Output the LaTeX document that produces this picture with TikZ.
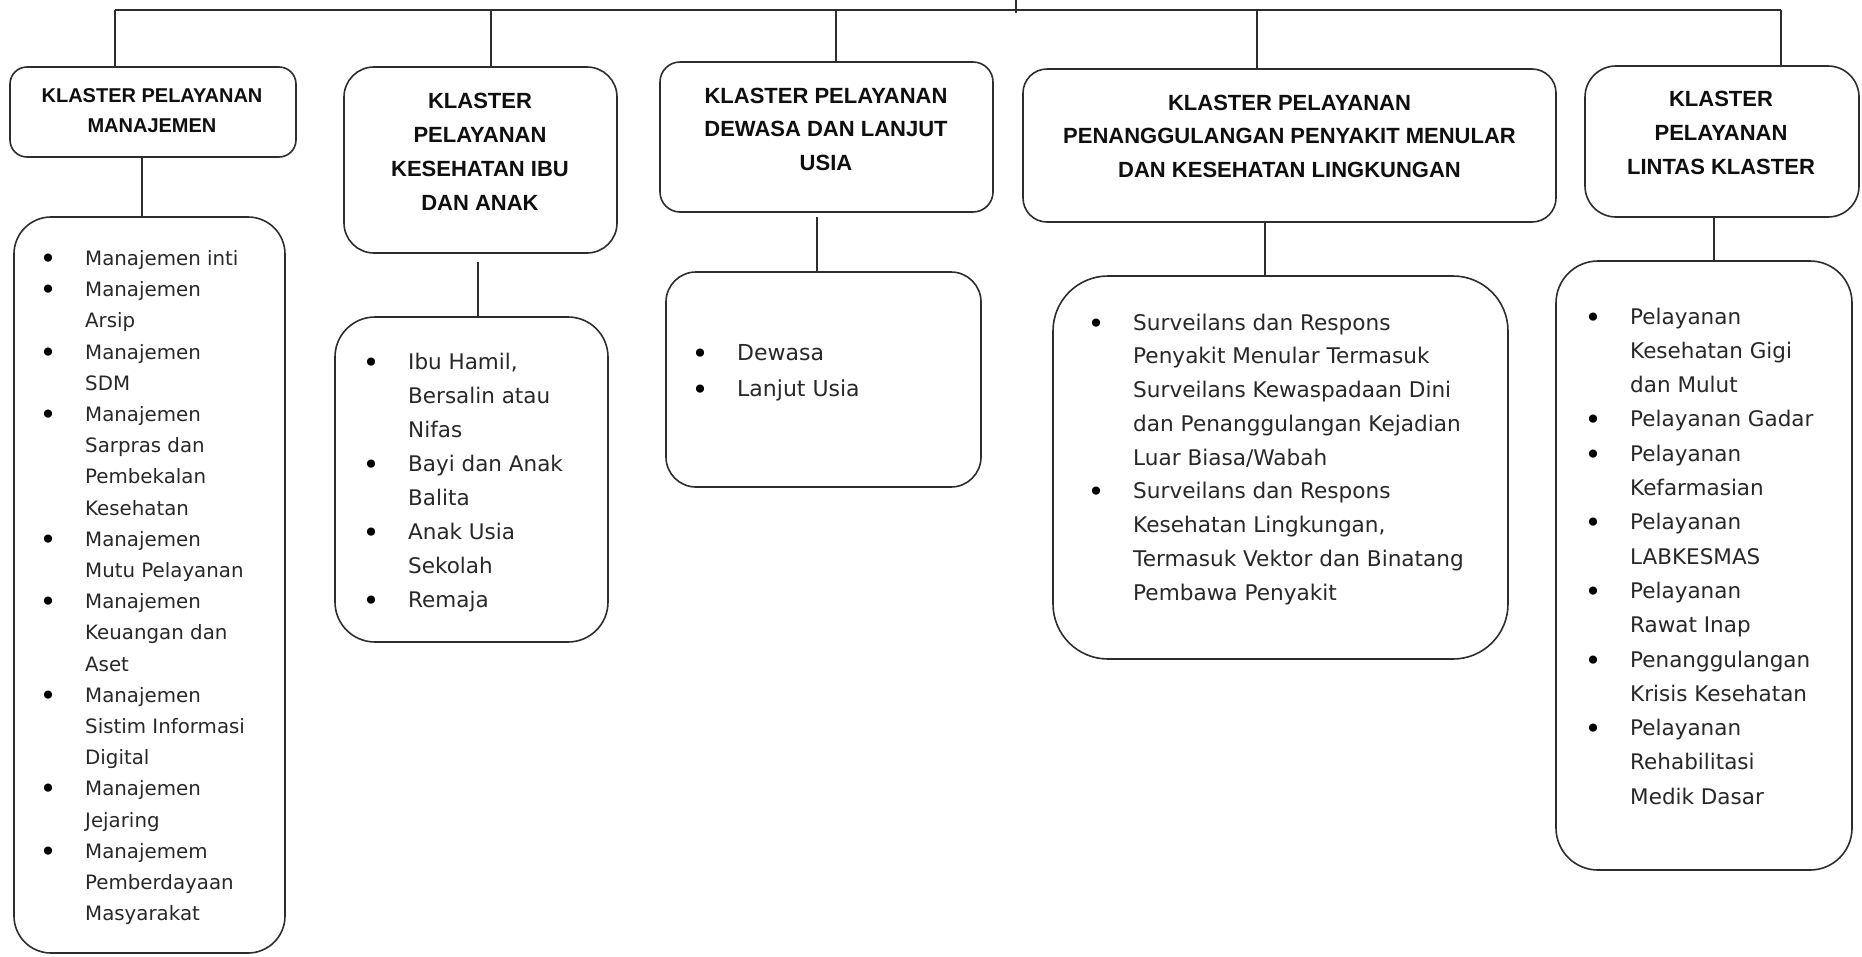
\documentclass[tikz,border=0pt]{standalone}
\usepackage{fontspec}
\setmainfont{DejaVu Sans}
\newfontfamily\hdrfont{Liberation Sans}
\usepackage{array}
\definecolor{ln}{RGB}{45,45,45}
\definecolor{tx}{RGB}{40,40,40}
\definecolor{hd}{RGB}{15,15,15}
\newcommand{\bul}{\llap{\makebox[0pt][c]{\raisebox{-3pt}{\fontsize{28}{28}\selectfont\color{black}•}}\hspace{37pt}}}
\tikzset{
 box/.style={draw=ln, line width=1.6pt, fill=white, inner sep=0pt},
 hdtext/.style={inner sep=0pt, anchor=base, text=hd, font=\hdrfont\bfseries},
 lsttext/.style={inner sep=0pt, anchor=base west, text=tx},
 conn/.style={draw=ln, line width=1.6pt},
}
\begin{document}
\begin{tikzpicture}[x=1pt,y=-1pt]
\useasboundingbox (0,0) rectangle (1862,956);

% header boxes
\node[box, minimum width=286pt, minimum height=90pt, rounded corners=17pt] (b1) at (153,112) {};
\node[box, minimum width=273pt, minimum height=186pt, rounded corners=30pt] (b2) at (480.5,160) {};
\node[box, minimum width=333pt, minimum height=150pt, rounded corners=20pt] (b3) at (826.5,137) {};
\node[box, minimum width=533pt, minimum height=153pt, rounded corners=24pt] (b4) at (1289.5,145.5) {};
\node[box, minimum width=274pt, minimum height=151pt, rounded corners=31pt] (b5) at (1722,141.5) {};

% list boxes
\node[box, minimum width=271pt, minimum height=736pt, rounded corners=37pt] (l1) at (149.5,585) {};
\node[box, minimum width=273pt, minimum height=325pt, rounded corners=40pt] (l2) at (471.5,479.5) {};
\node[box, minimum width=315pt, minimum height=215pt, rounded corners=30pt] (l3) at (823.5,379.5) {};
\node[box, minimum width=455pt, minimum height=383pt, rounded corners=55pt] (l4) at (1280.5,467.5) {};
\node[box, minimum width=296pt, minimum height=609pt, rounded corners=42pt] (l5) at (1704,565.5) {};

% junctions on the top line
\coordinate (root) at (1016,0);
\coordinate (j1) at (115,10);
\coordinate (j2) at (491,10);
\coordinate (j3) at (836,10);
\coordinate (j4) at (1257,10);
\coordinate (j5) at (1781,10);
\coordinate (c1) at (142,0);
\coordinate (c2) at (478,0);
\coordinate (c3) at (817,0);
\coordinate (c4) at (1265,0);
\coordinate (c5) at (1714,0);

\draw[conn] (j1) -- (j5);
\draw[conn] (root) -- ([yshift=-3pt]root |- j1);
\draw[conn] (j1) -- (j1 |- b1.north);
\draw[conn] (j2) -- (j2 |- b2.north);
\draw[conn] (j3) -- (j3 |- b3.north);
\draw[conn] (j4) -- (j4 |- b4.north);
\draw[conn] (j5) -- (j5 |- b5.north);

\draw[conn] (b1.south -| c1) -- (l1.north -| c1);
\draw[conn] ([yshift=-8pt]b2.south -| c2) -- (l2.north -| c2);
\draw[conn] ([yshift=-4pt]b3.south -| c3) -- (l3.north -| c3);
\draw[conn] (b4.south -| c4) -- (l4.north -| c4);
\draw[conn] (b5.south -| c5) -- (l5.north -| c5);

% header texts
\node[hdtext] (t1) at (152,102) {\fontsize{20}{30}\selectfont\begin{tabular}[t]{@{}c@{}}KLASTER PELAYANAN\\MANAJEMEN\end{tabular}};
\node[hdtext] (t2) at (480,108) {\fontsize{22}{34}\selectfont\begin{tabular}[t]{@{}c@{}}KLASTER\\PELAYANAN\\KESEHATAN IBU\\DAN ANAK\end{tabular}};
\node[hdtext] (t3) at (826,103) {\fontsize{22}{33.5}\selectfont\begin{tabular}[t]{@{}c@{}}KLASTER PELAYANAN\\DEWASA DAN LANJUT\\USIA\end{tabular}};
\node[hdtext] (t4) at (1289.5,110) {\fontsize{22}{33.5}\selectfont\begin{tabular}[t]{@{}c@{}}KLASTER PELAYANAN\\PENANGGULANGAN PENYAKIT MENULAR\\DAN KESEHATAN LINGKUNGAN\end{tabular}};
\node[hdtext] (t5) at (1721,106) {\fontsize{22}{34}\selectfont\begin{tabular}[t]{@{}c@{}}KLASTER\\PELAYANAN\\LINTAS KLASTER\end{tabular}};

% list texts
\node[lsttext] (s1) at (85,265.5) {\fontsize{19.8}{31.2}\selectfont\begin{tabular}[t]{@{}l@{}}
\bul Manajemen inti\\
\bul Manajemen\\
Arsip\\
\bul Manajemen\\
SDM\\
\bul Manajemen\\
Sarpras dan\\
Pembekalan\\
Kesehatan\\
\bul Manajemen\\
Mutu Pelayanan\\
\bul Manajemen\\
Keuangan dan\\
Aset\\
\bul Manajemen\\
Sistim Informasi\\
Digital\\
\bul Manajemen\\
Jejaring\\
\bul Manajemem\\
Pemberdayaan\\
Masyarakat
\end{tabular}};

\node[lsttext] (s2) at (408,369) {\fontsize{21.5}{34}\selectfont\begin{tabular}[t]{@{}l@{}}
\bul Ibu Hamil,\\
Bersalin atau\\
Nifas\\
\bul Bayi dan Anak\\
Balita\\
\bul Anak Usia\\
Sekolah\\
\bul Remaja
\end{tabular}};

\node[lsttext] (s3) at (737,360) {\fontsize{22}{36}\selectfont\begin{tabular}[t]{@{}l@{}}
\bul Dewasa\\
\bul Lanjut Usia
\end{tabular}};

\node[lsttext] (s4) at (1133,330) {\fontsize{21.6}{33.75}\selectfont\begin{tabular}[t]{@{}l@{}}
\bul Surveilans dan Respons\\
Penyakit Menular Termasuk\\
Surveilans Kewaspadaan Dini\\
dan Penanggulangan Kejadian\\
Luar Biasa/Wabah\\
\bul Surveilans dan Respons\\
Kesehatan Lingkungan,\\
Termasuk Vektor dan Binatang\\
Pembawa Penyakit
\end{tabular}};

\node[lsttext] (s5) at (1630,324) {\fontsize{21.5}{34.3}\selectfont\begin{tabular}[t]{@{}l@{}}
\bul Pelayanan\\
Kesehatan Gigi\\
dan Mulut\\
\bul Pelayanan Gadar\\
\bul Pelayanan\\
Kefarmasian\\
\bul Pelayanan\\
LABKESMAS\\
\bul Pelayanan\\
Rawat Inap\\
\bul Penanggulangan\\
Krisis Kesehatan\\
\bul Pelayanan\\
Rehabilitasi\\
Medik Dasar
\end{tabular}};
\end{tikzpicture}
\end{document}
